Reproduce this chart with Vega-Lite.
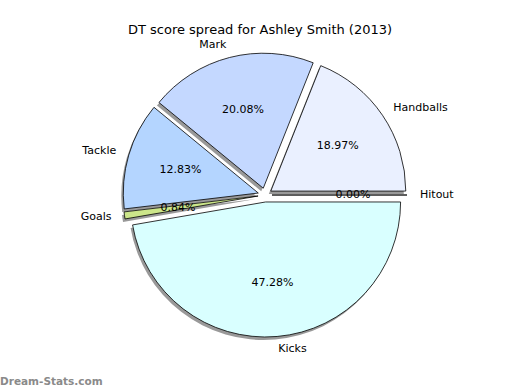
{
  "$schema": "https://vega.github.io/schema/vega-lite/v6.json",
  "width": 520,
  "height": 390,
  "autosize": "none",
  "padding": 0,
  "background": "white",
  "config": {"view": {"stroke": null}, "font": "DejaVu Sans"},
  "title": {"text": "DT score spread for Ashley Smith (2013)", "font": "DejaVu Sans", "fontSize": 13, "fontWeight": "normal", "color": "black", "offset": -37},
  "data": {"values": [
    {"idx": 0, "label": "Hitout", "value": 0.0, "pct": "0.00%"},
    {"idx": 1, "label": "Handballs", "value": 18.97, "pct": "18.97%"},
    {"idx": 2, "label": "Mark", "value": 20.08, "pct": "20.08%"},
    {"idx": 3, "label": "Tackle", "value": 12.83, "pct": "12.83%"},
    {"idx": 4, "label": "Goals", "value": 0.84, "pct": "0.84%"},
    {"idx": 5, "label": "Kicks", "value": 47.28, "pct": "47.28%"}
  ]},
  "encoding": {
    "theta": {"field": "value", "type": "quantitative", "stack": true, "scale": {"range": [1.5708, -4.7124]}},
    "order": {"field": "idx", "type": "quantitative"}
  },
  "layer": [
    {
      "mark": {"type": "arc", "outerRadius": 135, "fill": "black", "opacity": 0.4,
        "xOffset": {"expr": "3 + 7*cos(PI*(datum.value_start + datum.value_end)/100)"},
        "yOffset": {"expr": "3 - 7*sin(PI*(datum.value_start + datum.value_end)/100)"}}
    },
    {
      "mark": {"type": "arc", "outerRadius": 135, "stroke": "black", "strokeWidth": 0.8,
        "xOffset": {"expr": "5 + 7*cos(PI*(datum.value_start + datum.value_end)/100)"},
        "yOffset": {"expr": "-7*sin(PI*(datum.value_start + datum.value_end)/100)"}},
      "encoding": {
        "color": {"field": "label", "type": "nominal", "legend": null,
          "scale": {"domain": ["Hitout", "Handballs", "Mark", "Tackle", "Goals", "Kicks"],
                    "range": ["#ffffff", "#eaf0ff", "#c4d8ff", "#b4d5ff", "#cce68a", "#d9ffff"]}}
      }
    },
    {
      "mark": {"type": "text", "radius": 88, "fontSize": 11, "font": "DejaVu Sans", "color": "black", "xOffset": 5},
      "encoding": {"text": {"field": "pct"}}
    },
    {
      "mark": {"type": "text", "radius": 155, "fontSize": 11, "font": "DejaVu Sans", "color": "black", "xOffset": 5,
        "align": {"expr": "datum.label == 'Mark' || datum.label == 'Tackle' || datum.label == 'Goals' ? 'right' : 'left'"}},
      "encoding": {"text": {"field": "label"}}
    },
    {
      "data": {"values": [{"mark": "Dream-Stats.com"}]},
      "mark": {"type": "text", "align": "left", "baseline": "bottom", "fontSize": 10.5, "fontWeight": "bold", "font": "DejaVu Sans", "color": "#8a8a8a"},
      "encoding": {"text": {"field": "mark"}, "x": {"value": 0}, "y": {"value": 387}, "theta": null, "order": null}
    }
  ]
}
